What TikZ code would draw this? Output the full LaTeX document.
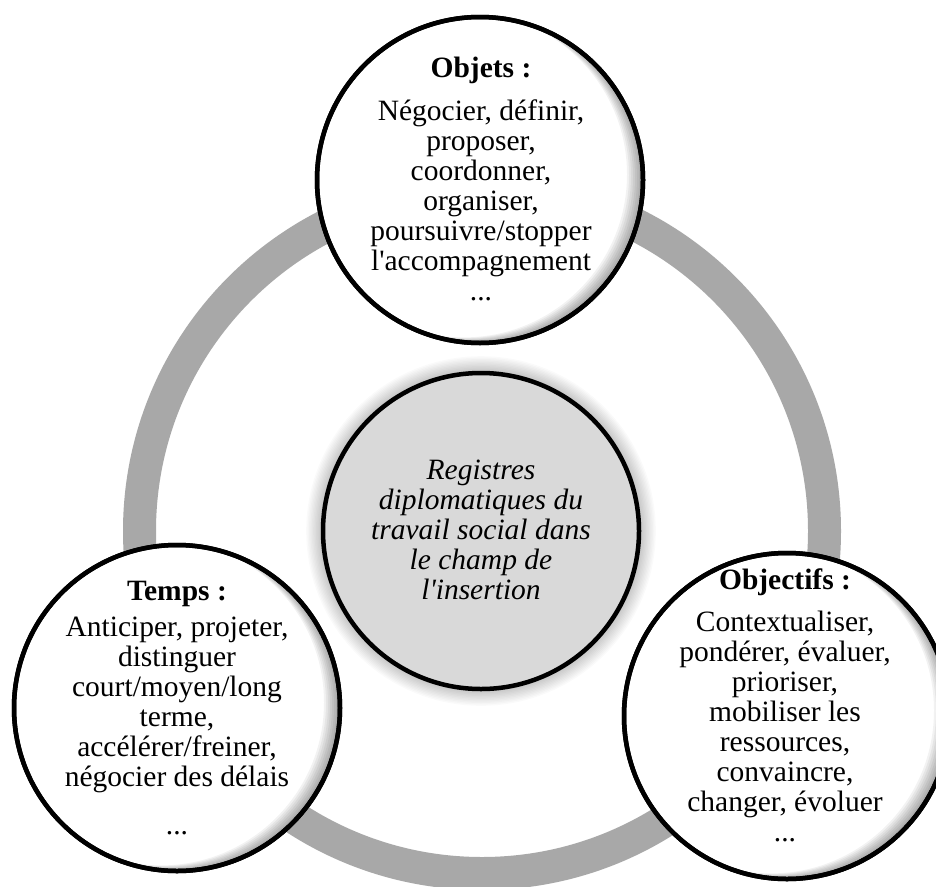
\documentclass[tikz,border=0pt]{standalone}
\usepackage{fontspec}
\setmainfont{Liberation Serif}[Ligatures=TeXOff]
\definecolor{ringgray}{RGB}{168,168,168}
\definecolor{hubgray}{RGB}{217,217,217}
\tikzset{
  bubble/.style={circle, draw=black, line width=4.5pt, fill=white, minimum size=326pt, inner sep=0pt},
  hub/.style={circle, draw=black, line width=4.5pt, fill=hubgray, minimum size=316pt, inner sep=0pt},
  head/.style={font=\fontsize{29.5}{30}\selectfont\bfseries, inner sep=0pt, anchor=base},
  body/.style={font=\fontsize{29.5}{30}\selectfont, align=center, inner sep=0pt, anchor=north},
  hubtext/.style={font=\fontsize{29.5}{30}\selectfont\itshape, align=center, inner sep=0pt, anchor=north},
  ringline/.style={draw=ringgray, line width=33pt},
}
\newcommand{\innershade}[1]{%
  \begin{scope}
    \clip (#1.center) circle (161pt);
    \foreach \s in {2,4,...,16}
      \fill[black, opacity=0.05, even odd rule] (#1.center) circle (163pt)
        ([shift={(-\s,-0.35*\s)}]#1.center) circle (163pt);
  \end{scope}
  \draw[black, line width=4.5pt] (#1.center) circle (163pt);
}
\begin{document}
\begin{tikzpicture}[x=1pt,y=-1pt]
\useasboundingbox (0,0) rectangle (936,886);
\fill[white] (0,0) rectangle (936,886);
% ring
\coordinate (ringc) at (482,531);
\draw[ringline] (ringc) circle (342.5pt);
% hub glow
\coordinate (hubc) at (481,531);
\foreach \k in {1,...,12}
  \fill[black, opacity=0.02] (hubc) circle ({158+\k*1.4 pt});
\node[hub] (hub) at (hubc) {};
% outer bubbles
\node[bubble] (objets) at (480,180) {};
\innershade{objets}
\node[bubble] (temps) at (177,708) {};
\innershade{temps}
\node[bubble] (objectifs) at (787,716) {};
\innershade{objectifs}
% texts
\node[hubtext] (hubt) at (481,460) {Registres\\diplomatiques du\\travail social dans\\le champ de\\l'insertion};
\node[head] (objetsh) at (481,77) {Objets :};
\node[body] (objetsb) at (481,99.6) {Négocier, définir,\\proposer,\\coordonner,\\organiser,\\poursuivre/stopper\\l'accompagnement\\...};
\node[head] (tempsh) at (177,600) {Temps :};
\node[body] (tempsb) at (177,616.6) {Anticiper, projeter,\\distinguer\\court/moyen/long\\terme,\\accélérer/freiner,\\négocier des délais\\[18pt]...};
\node[head] (objectifsh) at (785,589) {Objectifs :};
\node[body] (objectifsb) at (785,610.6) {Contextualiser,\\pondérer, évaluer,\\prioriser,\\mobiliser les\\ressources,\\convaincre,\\changer, évoluer\\...};
\end{tikzpicture}
\end{document}
